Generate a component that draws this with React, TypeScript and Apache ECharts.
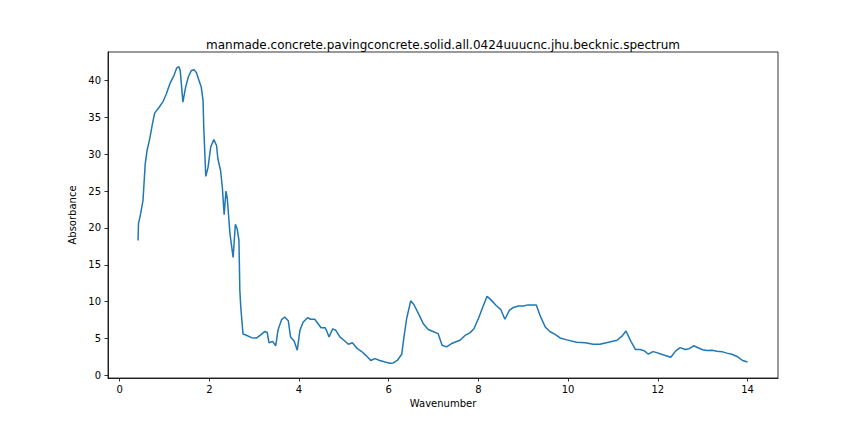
import React, { useEffect, useRef } from 'react'
import * as echarts from 'echarts'

// wavenumber / absorbance
const wavenumber = [
  0.41, 0.42, 0.46, 0.52, 0.57, 0.61, 0.67, 0.73, 0.78, 0.88, 0.97, 1.04, 1.12, 1.21, 1.27, 1.32,
  1.35, 1.41, 1.47, 1.53, 1.6, 1.66, 1.71, 1.76, 1.82, 1.86, 1.875, 1.92, 1.97, 2.03, 2.1, 2.16,
  2.19, 2.25, 2.29, 2.33, 2.37, 2.4, 2.46, 2.53, 2.58, 2.62, 2.66, 2.68, 2.7, 2.75, 2.8, 2.94,
  3.05, 3.13, 3.24, 3.29, 3.33, 3.41, 3.48, 3.53, 3.61, 3.68, 3.76, 3.81, 3.89, 3.96, 4.02, 4.09,
  4.19, 4.26, 4.35, 4.4, 4.49, 4.58, 4.61, 4.67, 4.75, 4.82, 4.91, 5.0, 5.1, 5.19, 5.3, 5.39,
  5.49, 5.6, 5.69, 5.8, 5.92, 6.03, 6.1, 6.19, 6.29, 6.34, 6.4, 6.49, 6.56, 6.66, 6.77, 6.88,
  7.0, 7.1, 7.19, 7.29, 7.4, 7.59, 7.7, 7.81, 7.9, 8.0, 8.1, 8.19, 8.27, 8.39, 8.5, 8.59,
  8.69, 8.78, 8.89, 9.0, 9.11, 9.29, 9.375, 9.49, 9.6, 9.71, 9.82, 9.97, 10.19, 10.38, 10.56, 10.71,
  10.9, 11.09, 11.2, 11.29, 11.4, 11.5, 11.61, 11.7, 11.79, 11.89, 11.96, 12.13, 12.29, 12.4, 12.5, 12.61,
  12.7, 12.8, 12.91, 13.0, 13.1, 13.21, 13.32, 13.43, 13.54, 13.65, 13.78, 13.89, 14.0,
]
const absorbance = [
  18.3, 20.6, 21.7, 23.7, 28.7, 30.5, 32.1, 34.1, 35.6, 36.4, 37.2, 38.2, 39.6, 40.7, 41.7, 41.9,
  41.4, 37.1, 39.1, 40.5, 41.4, 41.5, 41.1, 40.2, 39.1, 37.3, 33.7, 27.0, 28.2, 31.0, 32.0, 31.2,
  29.4, 27.8, 25.5, 21.8, 25.0, 24.0, 19.2, 16.0, 20.5, 19.9, 18.3, 11.5, 9.3, 5.6, 5.5, 5.1,
  5.05, 5.4, 5.95, 5.8, 4.4, 4.6, 4.0, 6.1, 7.55, 7.9, 7.4, 5.2, 4.65, 3.4, 6.1, 7.2,
  7.8, 7.6, 7.6, 7.2, 6.45, 6.45, 6.1, 5.2, 6.3, 6.1, 5.2, 4.75, 4.2, 4.4, 3.6, 3.25,
  2.7, 2.0, 2.25, 2.0, 1.8, 1.63, 1.67, 2.0, 2.85, 5.2, 7.7, 10.1, 9.6, 8.4, 7.0, 6.2,
  5.9, 5.65, 4.07, 3.85, 4.3, 4.75, 5.4, 5.75, 6.3, 7.7, 9.3, 10.7, 10.3, 9.5, 8.9, 7.6,
  8.8, 9.2, 9.4, 9.4, 9.55, 9.55, 8.1, 6.55, 5.9, 5.55, 5.06, 4.8, 4.47, 4.4, 4.2, 4.2,
  4.47, 4.75, 5.3, 6.0, 4.6, 3.5, 3.5, 3.3, 2.85, 3.2, 3.1, 2.75, 2.45, 3.3, 3.75, 3.5,
  3.6, 4.0, 3.7, 3.45, 3.35, 3.4, 3.25, 3.2, 3.0, 2.85, 2.5, 2.0, 1.8,
]
const xTicks = [0, 2, 4, 6, 8, 10, 12, 14]
const yTicks = [0, 5, 10, 15, 20, 25, 30, 35, 40]

const FONT = 'DejaVu Sans'

const App = function () {
  const chartDom = useRef<HTMLDivElement>(null)

  useEffect(() => {
    document.body.style.margin = '0'
    const chart = echarts.init(chartDom.current!, null, { renderer: 'svg' })
    const points = wavenumber.map((x, i) => [x, absorbance[i]])

    chart.setOption({
      animation: false,
      backgroundColor: '#fff',
      title: {
        text: 'manmade.concrete.pavingconcrete.solid.all.0424uuucnc.jhu.becknic.spectrum',
        left: 438,
        top: 34,
        textAlign: 'center',
        textStyle: { fontFamily: FONT, fontSize: 12, fontWeight: 'normal', color: '#000' },
      },
      grid: {
        left: 108,
        right: 86,
        top: 52,
        bottom: 54,
        show: true,
        borderColor: '#000',
        borderWidth: 0.8,
      },
      xAxis: {
        type: 'value',
        min: -0.26,
        max: 14.68,
        name: 'Wavenumber',
        nameLocation: 'middle',
        nameGap: 20,
        nameTextStyle: { fontFamily: FONT, fontSize: 10, color: '#000' },
        splitLine: { show: false },
        axisLine: { show: true, onZero: false, lineStyle: { color: '#000', width: 0.8 } },
        axisTick: {
          show: true,
          length: 3.5,
          customValues: xTicks,
          lineStyle: { color: '#000', width: 0.8 },
        },
        axisLabel: {
          customValues: xTicks,
          margin: 6,
          fontFamily: FONT,
          fontSize: 10,
          color: '#000',
        },
      },
      yAxis: {
        type: 'value',
        min: -0.38,
        max: 43.9,
        name: 'Absorbance',
        nameLocation: 'middle',
        nameGap: 23,
        nameRotate: 90,
        nameTextStyle: { fontFamily: FONT, fontSize: 10, color: '#000' },
        splitLine: { show: false },
        axisLine: { show: true, onZero: false, lineStyle: { color: '#000', width: 0.8 } },
        axisTick: {
          show: true,
          length: 3.5,
          customValues: yTicks,
          lineStyle: { color: '#000', width: 0.8 },
        },
        axisLabel: {
          customValues: yTicks,
          margin: 7,
          fontFamily: FONT,
          fontSize: 10,
          color: '#000',
        },
      },
      series: [
        {
          type: 'line',
          data: points,
          showSymbol: false,
          smooth: false,
          lineStyle: { color: '#1f77b4', width: 1.5 },
        },
      ],
    })

    return () => {
      chart.dispose()
    }
  }, [])

  return <div ref={chartDom} style={{ width: 864, height: 432 }} />
}

export default App
